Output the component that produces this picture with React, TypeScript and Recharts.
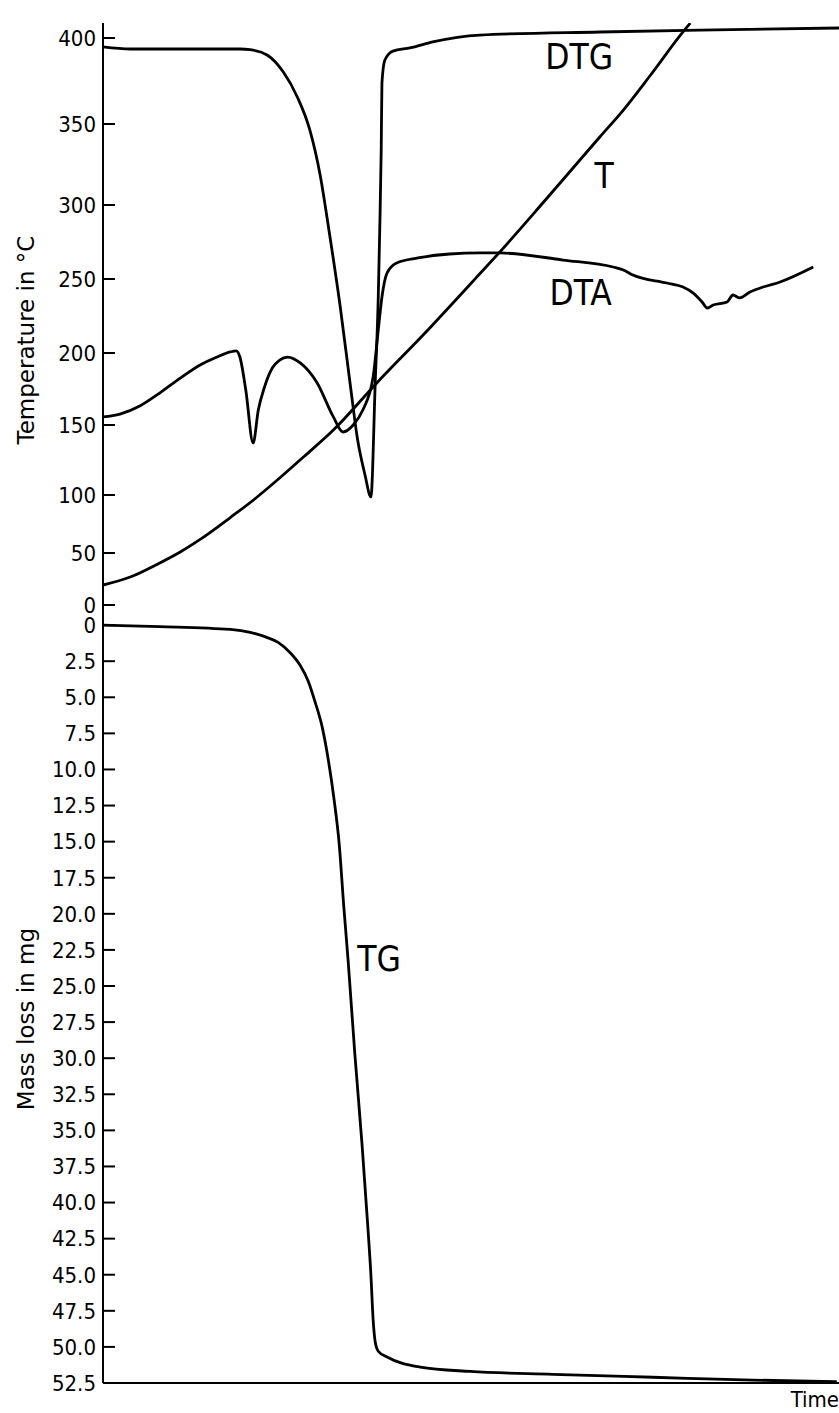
import { Label, Line, LineChart, ReferenceDot, XAxis, YAxis } from "recharts";

// recorder chart: temperature scale is not linear, so each labelled temperature sits at its own height (chart units above the 0 line)
const TEMP_TICKS = [0, 50, 100, 150, 200, 250, 300, 350, 400];
const TEMP_TICK_HEIGHT = [0, 52, 110, 180, 252, 326, 400, 481, 567];
const TEMP_CHART_RANGE = [-10, 582];

const MASS_TICKS = [0, 2.5, 5, 7.5, 10, 12.5, 15, 17.5, 20, 22.5, 25, 27.5, 30, 32.5, 35, 37.5, 40, 42.5, 45, 47.5, 50, 52.5];
const MASS_RANGE = [-0.7, 52.5];

const T_TIME = [0, 3.7, 7.7, 10.5, 13.2, 17.3, 20.7, 24.0, 27.4, 31.3, 37.2, 44.4, 47.8, 50.8, 53.9, 59.4, 64.8, 67.5, 70.7, 74.3, 78.8, 79.8];
const T_VALUE = [19.2, 26.9, 40.4, 50.9, 61.7, 80.6, 97.0, 112.1, 127.9, 146.4, 179.2, 216.9, 235.1, 251.4, 268.2, 299.3, 327.8, 342.0, 358.1, 377.9, 403.5, 408.7];

const DTG_TIME = [0, 3.7, 13.2, 18.6, 20.0, 22.3, 24.5, 26.4, 28.1, 29.5, 30.8, 32.2, 33.6, 34.6, 35.6, 36.4, 37.0, 37.4, 37.6, 37.8, 37.9, 38.3, 39.4, 41.7, 44.8, 51.2, 67.5, 81.1, 100];
const DTG_VALUE = [394.8, 393.6, 393.6, 393.6, 393.2, 390.1, 380.2, 365.7, 346.3, 318.5, 279.7, 232.4, 177.8, 139.3, 114.3, 98.3, 181.3, 237.8, 283.1, 334.0, 373.8, 387.2, 392.4, 394.2, 397.7, 401.7, 403.5, 404.6, 405.8];

const DTA_TIME = [0, 2.3, 5.0, 7.7, 10.5, 13.2, 15.5, 17.3, 18.1, 18.6, 19.4, 20.4, 21.1, 21.9, 23.0, 24.0, 25.1, 26.8, 29.1, 31.3, 32.6, 34.0, 35.3, 36.7, 37.4, 37.9, 38.6, 39.9, 42.8, 47.1, 51.2, 53.9, 62.5, 69.3, 70.7, 72.0, 76.6, 78.8, 80.2, 81.4, 82.1, 82.9, 84.8, 85.6, 86.5, 87.9, 89.7, 92.0, 96.5];
const DTA_VALUE = [155.6, 157.6, 163.2, 172.2, 182.6, 191.7, 197.2, 200.7, 201.4, 197.2, 174.3, 137.1, 160.4, 175.7, 189.6, 195.1, 197.2, 193.1, 179.2, 155.6, 145.0, 150.0, 160.4, 183.3, 215.5, 237.8, 254.1, 260.8, 264.2, 266.9, 267.6, 267.6, 262.8, 258.1, 256.1, 252.7, 247.3, 244.6, 240.5, 234.5, 230.4, 232.4, 234.5, 239.2, 237.2, 241.2, 244.6, 248.0, 258.1];

const TG_TIME = [0, 7.7, 17.3, 20.0, 22.0, 23.8, 25.4, 26.8, 27.9, 28.8, 29.8, 30.6, 31.4, 32.1, 32.7, 33.3, 34.2, 35.2, 36.0, 36.4, 36.7, 37.0, 37.4, 38.6, 43.1, 49.9, 61.1, 74.7, 88.3, 99.7];
const TG_VALUE = [0, 0.1, 0.3, 0.5, 0.8, 1.2, 1.9, 2.8, 3.9, 5.3, 7.1, 9.3, 12.1, 15.2, 19.4, 23.2, 29.6, 36.0, 41.8, 45.0, 48.1, 49.7, 50.3, 50.7, 51.4, 51.7, 51.9, 52.1, 52.3, 52.4];

const TOP_LABELS = [
  { name: "DTG", time: 64.7, value: 389.2 },
  { name: "T", time: 68.1, value: 318.5 },
  { name: "DTA", time: 64.9, value: 240.9 },
];
const TG_LABEL = { name: "TG", time: 37.5, value: 23.1 };

const FONT = "'DejaVu Sans Condensed', 'DejaVu Sans', sans-serif";
const INK = "#000";

// temperature -> chart height, piecewise between the labelled temperatures
function toChart(t: number) {
  let i = 0;
  while (i < TEMP_TICKS.length - 2 && t > TEMP_TICKS[i + 1]) i++;
  const t0 = TEMP_TICKS[i];
  const t1 = TEMP_TICKS[i + 1];
  const h0 = TEMP_TICK_HEIGHT[i];
  const h1 = TEMP_TICK_HEIGHT[i + 1];
  return h0 + ((t - t0) / (t1 - t0)) * (h1 - h0);
}

function series(times: number[], values: number[], map = (v: number) => v) {
  return times.map((time, index) => ({ time, value: map(values[index]) }));
}

const tickStyle = { fontSize: 22, fill: INK, fontFamily: FONT, fontStretch: "condensed" };
const axisStroke = { stroke: INK, strokeWidth: 2 };

function axisTitle(text: string, shift: number) {
  return (props: any) => {
    const vb = props.viewBox;
    const cx = 26;
    const cy = vb.y + vb.height / 2 + shift;
    return (
      <text x={cx} y={cy} dy="0.36em" textAnchor="middle" transform={`rotate(-90, ${cx}, ${cy})`} fontSize={23} fontFamily="'DejaVu Sans', sans-serif" fill={INK}>
        {text}
      </text>
    );
  };
}

function curveLabel(text: string) {
  return (props: any) => {
    const vb = props.viewBox;
    return (
      <text x={vb.x + vb.width / 2} y={vb.y + vb.height / 2} dy="0.36em" textAnchor="middle" fontSize={35} fontFamily={FONT} fontStretch="condensed" fill={INK}>
        {text}
      </text>
    );
  };
}

function timeLabel(props: any) {
  const vb = props.viewBox;
  return (
    <text x={vb.x + vb.width} y={vb.y + 24} textAnchor="end" fontSize={22} fontFamily={FONT} fontStretch="condensed" fill={INK}>
      Time
    </text>
  );
}

export default function App() {
  const tData = series(T_TIME, T_VALUE, toChart);
  const dtgData = series(DTG_TIME, DTG_VALUE, toChart);
  const dtaData = series(DTA_TIME, DTA_VALUE, toChart);
  const tgData = series(TG_TIME, TG_VALUE);
  const lineProps = { dataKey: "value", type: "monotone" as const, stroke: INK, strokeWidth: 2.8, dot: false, isAnimationActive: false };

  return (
    <div style={{ position: "absolute", left: 0, top: 0, width: 839, height: 1413, background: "#fff", overflow: "hidden" }}>
      <div style={{ position: "absolute", left: 0, top: 0 }}>
        <LineChart width={839} height={640} margin={{ top: 23, right: 0, bottom: 25, left: 0 }}>
          <XAxis type="number" dataKey="time" domain={[0, 100]} orientation="top" height={0} tick={false} tickLine={false} axisLine={axisStroke} allowDataOverflow />
          <YAxis
            type="number"
            domain={TEMP_CHART_RANGE}
            ticks={TEMP_TICK_HEIGHT}
            interval={0}
            tickFormatter={(v: number) => String(TEMP_TICKS[TEMP_TICK_HEIGHT.indexOf(v)])}
            width={103}
            tickSize={-12}
            tickMargin={19}
            tick={tickStyle}
            axisLine={axisStroke}
            tickLine={axisStroke}
            allowDataOverflow
          >
            <Label content={axisTitle("Temperature in °C", 21)} />
          </YAxis>
          <Line data={dtgData} {...lineProps} />
          <Line data={dtaData} {...lineProps} />
          <Line data={tData} {...lineProps} />
          {TOP_LABELS.map((l) => (
            <ReferenceDot key={l.name} x={l.time} y={toChart(l.value)} r={1} fill="none" stroke="none" label={{ content: curveLabel(l.name) }} />
          ))}
        </LineChart>
      </div>
      <div style={{ position: "absolute", left: 0, top: 590 }}>
        <LineChart width={839} height={823} margin={{ top: 25, right: 0, bottom: 0, left: 0 }}>
          <XAxis type="number" dataKey="time" domain={[0, 100]} height={30} tick={false} tickLine={false} axisLine={axisStroke} allowDataOverflow>
            <Label content={timeLabel} />
          </XAxis>
          <YAxis
            type="number"
            reversed
            domain={MASS_RANGE}
            ticks={MASS_TICKS}
            interval={0}
            tickFormatter={(v: number) => (v === 0 ? "0" : v.toFixed(1))}
            width={103}
            tickSize={-12}
            tickMargin={19}
            tick={tickStyle}
            axisLine={axisStroke}
            tickLine={axisStroke}
            allowDataOverflow
          >
            <Label content={axisTitle("Mass loss in mg", 20)} />
          </YAxis>
          <Line data={tgData} {...lineProps} />
          <ReferenceDot x={TG_LABEL.time} y={TG_LABEL.value} r={1} fill="none" stroke="none" label={{ content: curveLabel(TG_LABEL.name) }} />
        </LineChart>
      </div>
    </div>
  );
}
